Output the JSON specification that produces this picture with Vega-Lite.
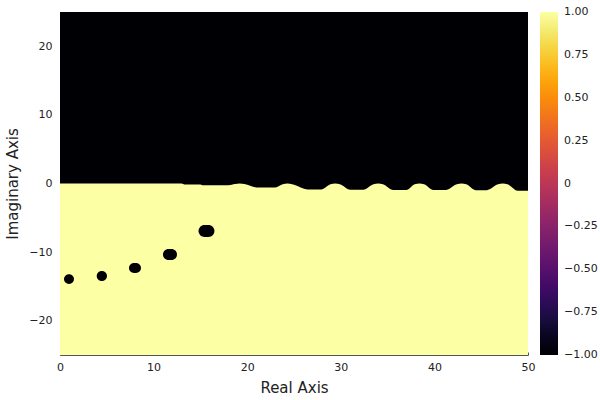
{
  "$schema": "https://vega.github.io/schema/vega-lite/v6.json",
  "autosize": {"type": "none"},
  "padding": {"left": 60, "top": 12, "right": 72, "bottom": 45},
  "width": 468,
  "height": 343,
  "background": "white",
  "config": {
    "view": {"stroke": null},
    "font": "DejaVu Sans",
    "axis": {
      "grid": false,
      "zindex": 1,
      "labelFlush": false,
      "domainColor": "#555555",
      "tickColor": "#555555",
      "tickSize": -3,
      "labelFontSize": 11,
      "labelColor": "#222222",
      "titleFontSize": 15,
      "titleFontWeight": "normal",
      "titleColor": "#222222"
    },
    "legend": {"labelFontSize": 11, "labelColor": "#222222"}
  },
  "datasets": {
    "background": [{"re0": 0, "re1": 50, "im0": -25, "im1": 25, "value": 1}],
    "boundary": [
      {"re": 0, "im": 0, "value": -1},
      {"re": 13, "im": 0, "value": -1},
      {"re": 13.3, "im": -0.13, "value": -1},
      {"re": 15, "im": -0.13, "value": -1},
      {"re": 15.3, "im": -0.25, "value": -1},
      {"re": 18.0, "im": -0.25, "value": -1},
      {"re": 18.7, "im": -0.08, "value": -1},
      {"re": 19.2, "im": 0, "value": -1},
      {"re": 19.7, "im": -0.08, "value": -1},
      {"re": 21.0, "im": -0.57, "value": -1},
      {"re": 23.0, "im": -0.57, "value": -1},
      {"re": 23.8, "im": -0.1, "value": -1},
      {"re": 24.3, "im": 0, "value": -1},
      {"re": 24.8, "im": -0.1, "value": -1},
      {"re": 26.5, "im": -0.86, "value": -1},
      {"re": 27.9, "im": -0.86, "value": -1},
      {"re": 28.9, "im": -0.12, "value": -1},
      {"re": 29.4, "im": 0, "value": -1},
      {"re": 29.9, "im": -0.12, "value": -1},
      {"re": 31.0, "im": -0.9, "value": -1},
      {"re": 32.4, "im": -0.9, "value": -1},
      {"re": 33.5, "im": -0.12, "value": -1},
      {"re": 34.0, "im": 0, "value": -1},
      {"re": 34.5, "im": -0.12, "value": -1},
      {"re": 35.6, "im": -0.95, "value": -1},
      {"re": 37.0, "im": -0.95, "value": -1},
      {"re": 37.9, "im": -0.12, "value": -1},
      {"re": 38.4, "im": 0, "value": -1},
      {"re": 38.9, "im": -0.12, "value": -1},
      {"re": 39.9, "im": -0.95, "value": -1},
      {"re": 41.2, "im": -0.95, "value": -1},
      {"re": 42.4, "im": -0.12, "value": -1},
      {"re": 42.9, "im": 0, "value": -1},
      {"re": 43.4, "im": -0.12, "value": -1},
      {"re": 44.4, "im": -0.97, "value": -1},
      {"re": 45.6, "im": -0.97, "value": -1},
      {"re": 46.8, "im": -0.12, "value": -1},
      {"re": 47.3, "im": 0, "value": -1},
      {"re": 47.8, "im": -0.12, "value": -1},
      {"re": 48.9, "im": -1.05, "value": -1},
      {"re": 50, "im": -1.05, "value": -1}
    ],
    "blobs": [
      {"re0": 0.43, "re1": 1.49, "im0": -14.64, "im1": -13.23, "value": -1},
      {"re0": 3.92, "re1": 5.02, "im0": -14.21, "im1": -12.75, "value": -1},
      {"re0": 7.37, "re1": 8.65, "im0": -13.04, "im1": -11.59, "value": -1},
      {"re0": 11.0, "re1": 12.5, "im0": -11.15, "im1": -9.55, "value": -1},
      {"re0": 14.8, "re1": 16.5, "im0": -7.8, "im1": -6.06, "value": -1}
    ]
  },
  "encoding": {},
  "layer": [
    {
      "data": {"name": "background"},
      "mark": {"type": "rect"},
      "encoding": {
        "x": {"field": "re0", "type": "quantitative", "scale": {"domain": [0, 50], "nice": false, "zero": false},
              "axis": {"title": "Real Axis", "values": [0, 10, 20, 30, 40, 50], "labelPadding": 9, "titlePadding": 8}},
        "x2": {"field": "re1"},
        "y": {"field": "im0", "type": "quantitative", "scale": {"domain": [-25, 25], "nice": false, "zero": false},
              "axis": {"title": "Imaginary Axis", "values": [-20, -10, 0, 10, 20], "labelPadding": 11, "titlePadding": 8}},
        "y2": {"field": "im1"},
        "color": {
          "field": "value", "type": "quantitative",
          "scale": {"domain": [-1, 1], "scheme": "inferno"},
          "legend": {
            "title": null,
            "orient": "none",
            "legendX": 480,
            "legendY": 0,
            "direction": "vertical",
            "gradientLength": 343,
            "gradientThickness": 18,
            "gradientStrokeWidth": 0,
            "values": [-1, -0.75, -0.5, -0.25, 0, 0.25, 0.5, 0.75, 1],
            "labelExpr": "datum.value == 0 ? '0' : format(datum.value, '.2f')",
            "labelOverlap": false,
            "labelBaseline": "middle",
            "labelOffset": 6,
            "encode": {"labels": {"update": {"baseline": {"value": "middle"}}}}
          }
        }
      }
    },
    {
      "data": {"name": "boundary"},
      "mark": {"type": "area", "interpolate": "monotone"},
      "encoding": {
        "x": {"field": "re", "type": "quantitative"},
        "y": {"field": "im", "type": "quantitative"},
        "y2": {"datum": 25},
        "color": {"field": "value", "type": "quantitative"}
      }
    },
    {
      "data": {"name": "blobs"},
      "mark": {"type": "rect", "cornerRadius": 6},
      "encoding": {
        "x": {"field": "re0", "type": "quantitative"},
        "x2": {"field": "re1"},
        "y": {"field": "im0", "type": "quantitative"},
        "y2": {"field": "im1"},
        "color": {"field": "value", "type": "quantitative"}
      }
    }
  ]
}
